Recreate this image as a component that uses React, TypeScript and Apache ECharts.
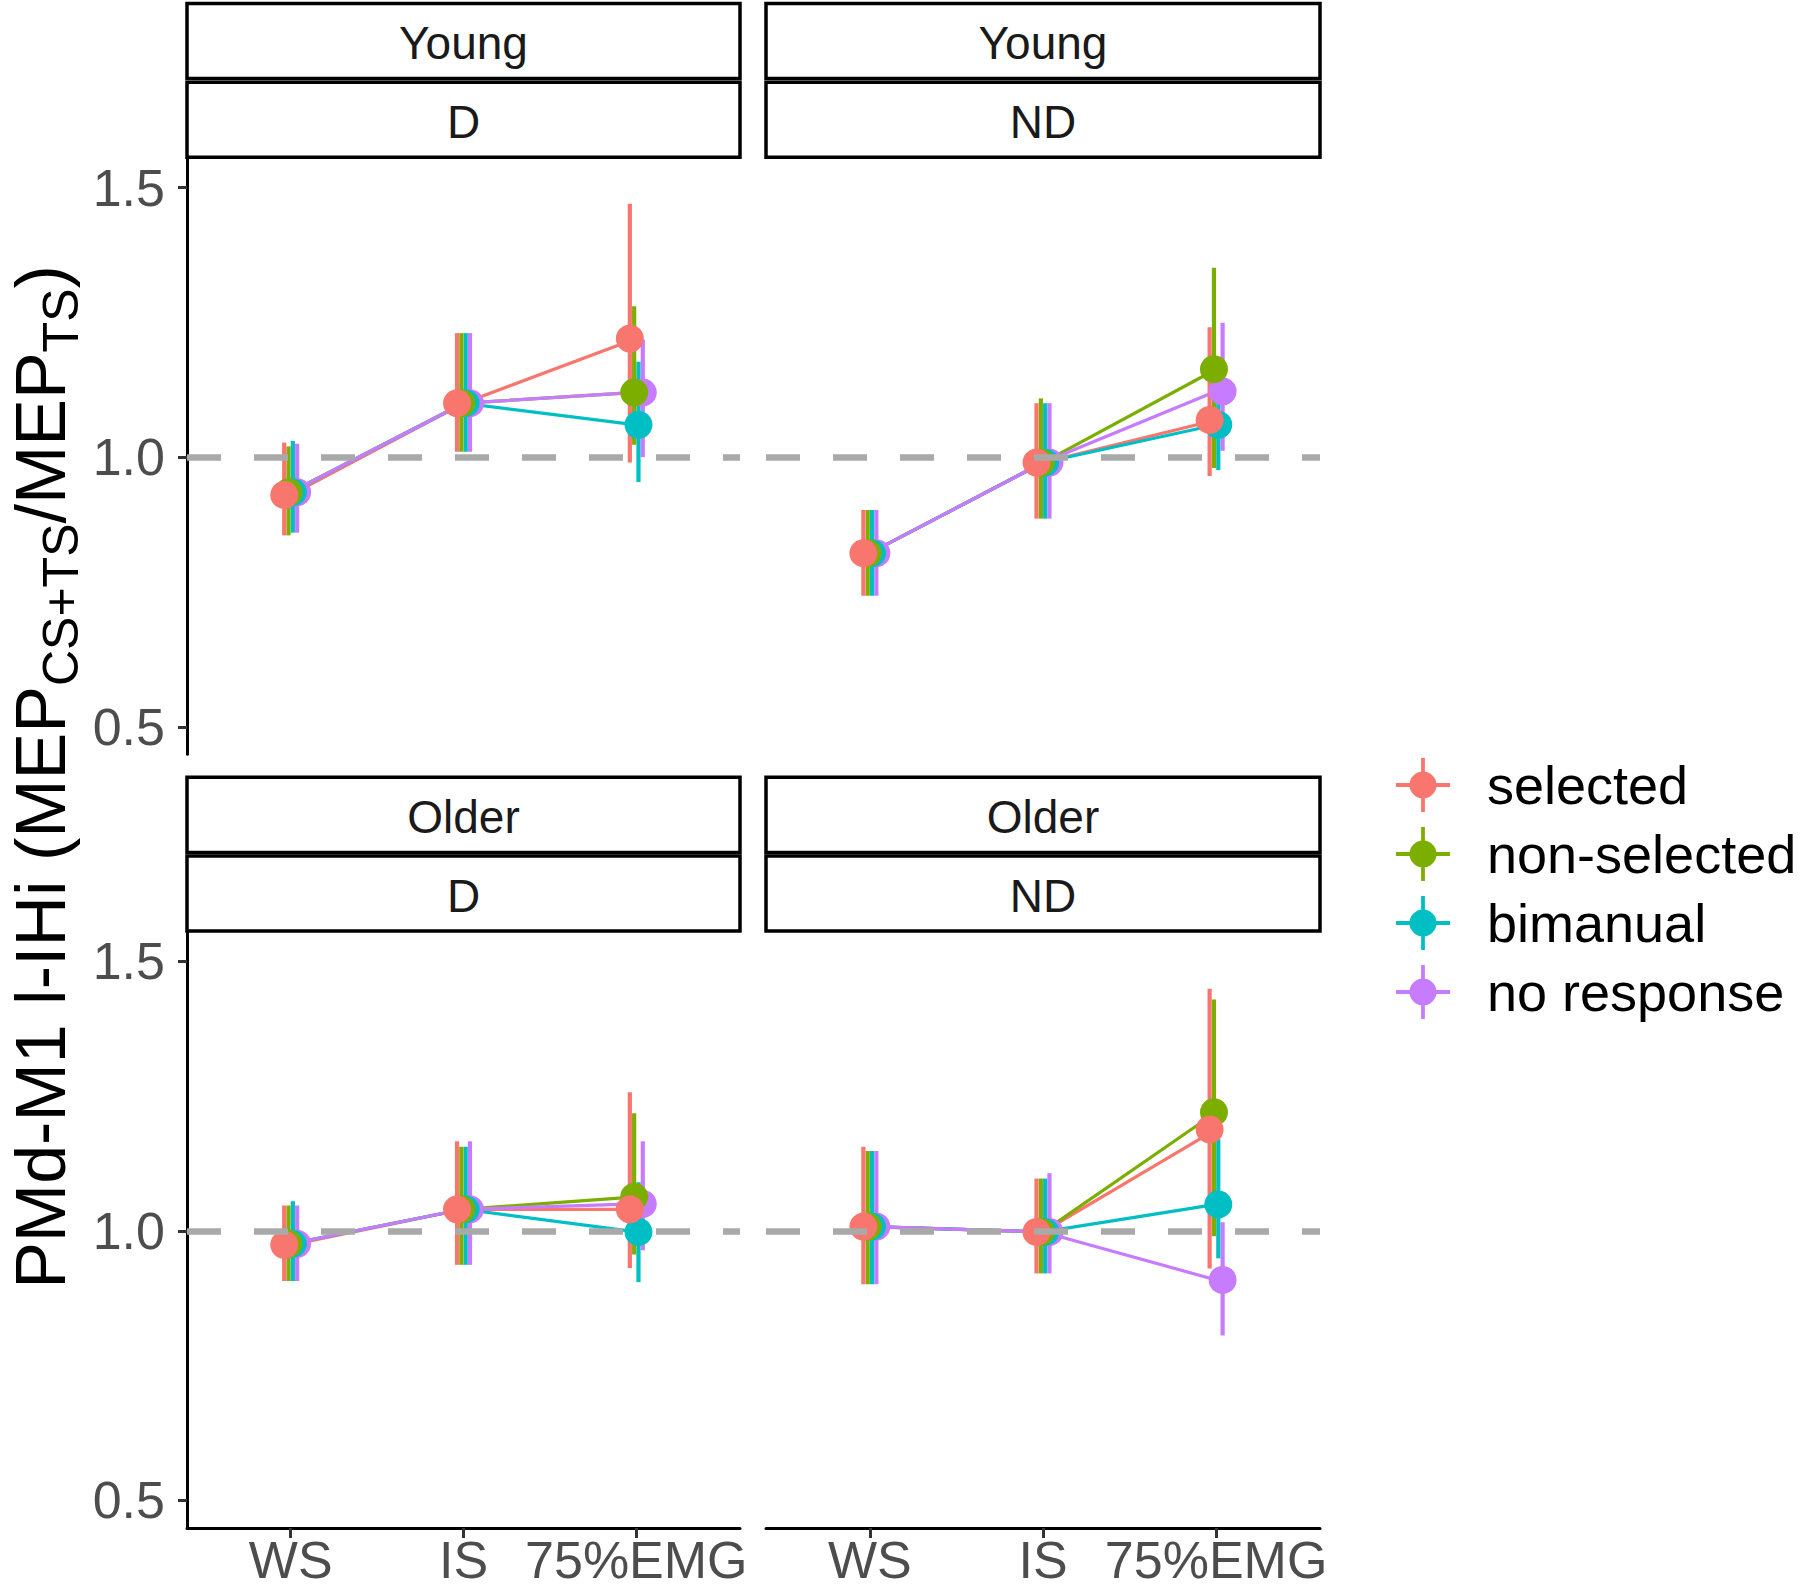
import React, { useEffect, useRef } from "react";
import * as echarts from "echarts";

// ---------- data ----------
const categories = ["WS", "IS", "75%EMG"];
const conditions = ["selected", "non-selected", "bimanual", "no response"];
const colors = ["#F8766D", "#7CAE00", "#00BFC4", "#C77CFF"];
const ageLabels = ["Young", "Young", "Older", "Older"];
const handLabels = ["D", "ND", "D", "ND"];
const yTicks = [0.5, 1.0, 1.5];
const dodgeOffsets = [-0.0375, -0.0125, 0.0125, 0.0375];

// rows: selected, non-selected, bimanual, no response ; cols: WS, IS, 75%EMG
const youngD_mean = [
  [0.93, 1.1, 1.22],
  [0.935, 1.1, 1.12],
  [0.935, 1.1, 1.06],
  [0.935, 1.1, 1.12],
];
const youngD_lower = [
  [0.855, 1.01, 0.99],
  [0.855, 1.01, 1.023],
  [0.86, 1.01, 0.954],
  [0.86, 1.01, 1.0],
];
const youngD_upper = [
  [1.027, 1.23, 1.47],
  [1.02, 1.23, 1.28],
  [1.03, 1.23, 1.177],
  [1.025, 1.23, 1.218],
];

const youngND_mean = [
  [0.822, 0.99, 1.069],
  [0.822, 0.99, 1.163],
  [0.822, 0.99, 1.06],
  [0.822, 0.99, 1.122],
];
const youngND_lower = [
  [0.743, 0.886, 0.965],
  [0.743, 0.886, 0.98],
  [0.743, 0.886, 0.976],
  [0.743, 0.886, 1.012],
];
const youngND_upper = [
  [0.902, 1.1, 1.241],
  [0.902, 1.109, 1.351],
  [0.902, 1.1, 1.15],
  [0.902, 1.1, 1.249],
];

const olderD_mean = [
  [0.974, 1.04, 1.04],
  [0.976, 1.04, 1.063],
  [0.976, 1.04, 0.998],
  [0.976, 1.04, 1.05],
];
const olderD_lower = [
  [0.907, 0.937, 0.931],
  [0.907, 0.937, 0.956],
  [0.907, 0.937, 0.905],
  [0.907, 0.937, 0.964],
];
const olderD_upper = [
  [1.047, 1.166, 1.257],
  [1.047, 1.156, 1.218],
  [1.055, 1.156, 1.09],
  [1.047, 1.166, 1.166],
];

const olderND_mean = [
  [1.008, 0.998, 1.188],
  [1.008, 0.998, 1.22],
  [1.008, 0.998, 1.049],
  [1.008, 0.998, 0.909],
];
const olderND_lower = [
  [0.901, 0.921, 0.93],
  [0.901, 0.921, 0.99],
  [0.901, 0.921, 0.949],
  [0.901, 0.921, 0.806],
];
const olderND_upper = [
  [1.156, 1.097, 1.449],
  [1.148, 1.097, 1.429],
  [1.148, 1.097, 1.17],
  [1.148, 1.107, 1.016],
];

const panelMeans = [youngD_mean, youngND_mean, olderD_mean, olderND_mean];
const panelLowers = [youngD_lower, youngND_lower, olderD_lower, olderND_lower];
const panelUppers = [youngD_upper, youngND_upper, olderD_upper, olderND_upper];

// ---------- layout ----------
const FONT = '"Liberation Sans", Arial, Helvetica, sans-serif';
const grids = [
  { left: 187, top: 157.3, width: 553, height: 597 },
  { left: 766, top: 157.3, width: 554, height: 597 },
  { left: 187, top: 931, width: 553, height: 597 },
  { left: 766, top: 931, width: 554, height: 597 },
];
const stripTops = [3.4, 3.4, 777.2, 777.2];
const Y_MIN = 0.449;
const Y_MAX = 1.556;

const legendIcon =
  "path://M0,46.5H100V53.5H0Z M46.5,0H53.5V100H46.5Z M25,50A25,25,0,1,1,75,50A25,25,0,1,1,25,50Z";

function buildOption() {
  const xAxis = grids.map((_, p) => {
    const bottom = p >= 2;
    return {
      type: "value",
      gridIndex: p,
      min: 0.4,
      max: 3.6,
      show: bottom,
      axisLine: { show: bottom, onZero: false, lineStyle: { color: "#000", width: 3 } },
      axisTick: {
        show: bottom,
        customValues: [1, 2, 3],
        length: 10,
        lineStyle: { color: "#333", width: 3 },
      },
      axisLabel: {
        show: bottom,
        customValues: [1, 2, 3],
        formatter: (v: number) => categories[Math.round(v) - 1] ?? "",
        fontSize: 52,
        lineHeight: 36,
        color: "#4D4D4D",
        fontFamily: FONT,
        margin: 14,
      },
      splitLine: { show: false },
    };
  });

  const yAxis = grids.map((_, p) => {
    const left = p % 2 === 0;
    return {
      type: "value",
      gridIndex: p,
      min: Y_MIN,
      max: Y_MAX,
      show: left,
      axisLine: { show: left, onZero: false, lineStyle: { color: "#000", width: 3 } },
      axisTick: {
        show: left,
        customValues: yTicks,
        length: 9,
        lineStyle: { color: "#333", width: 3 },
      },
      axisLabel: {
        show: left,
        customValues: yTicks,
        formatter: (v: number) => v.toFixed(1),
        fontSize: 52,
        color: "#4D4D4D",
        fontFamily: FONT,
        margin: 22,
      },
      splitLine: { show: false },
    };
  });

  const series: any[] = [];
  grids.forEach((_, p) => {
    const mean = panelMeans[p];
    const lower = panelLowers[p];
    const upper = panelUppers[p];
    // connecting lines
    conditions.forEach((name, c) => {
      const s: any = {
        type: "line",
        name,
        xAxisIndex: p,
        yAxisIndex: p,
        data: categories.map((_, k) => [k + 1, mean[c][k]]),
        showSymbol: false,
        symbol: "none",
        lineStyle: { color: colors[c], width: 3.2 },
        itemStyle: { color: colors[c] },
        silent: true,
        z: 2,
      };
      if (c === 0) {
        s.markLine = {
          silent: true,
          symbol: ["none", "none"],
          label: { show: false },
          lineStyle: { color: "#A9A9A9", width: 6.5, type: [34, 33] },
          data: [{ yAxis: 1 }],
          z: 8,
        };
      }
      series.push(s);
    });
    // point ranges (drawn purple first, red last)
    for (let c = conditions.length - 1; c >= 0; c--) {
      const color = colors[c];
      series.push({
        type: "custom",
        name: conditions[c],
        xAxisIndex: p,
        yAxisIndex: p,
        data: categories.map((_, k) => [k + 1 + dodgeOffsets[c], lower[c][k], upper[c][k]]),
        encode: { x: 0, y: [1, 2] },
        silent: true,
        z: 3,
        renderItem: (_params: any, api: any) => {
          const x = api.value(0);
          const a = api.coord([x, api.value(1)]);
          const b = api.coord([x, api.value(2)]);
          return {
            type: "line",
            shape: { x1: a[0], y1: a[1], x2: b[0], y2: b[1] },
            style: { stroke: color, lineWidth: 4.2 },
          };
        },
      });
      series.push({
        type: "scatter",
        name: conditions[c],
        xAxisIndex: p,
        yAxisIndex: p,
        data: categories.map((_, k) => [k + 1 + dodgeOffsets[c], mean[c][k]]),
        symbol: "circle",
        symbolSize: 28,
        itemStyle: { color, opacity: 1 },
        silent: true,
        z: 3,
      });
    }
  });

  // strips
  const graphics: any[] = [];
  grids.forEach((g, p) => {
    const y0 = stripTops[p];
    const boxes = [
      { y: y0, h: 75.2, label: ageLabels[p] },
      { y: y0 + 78.8, h: 75.1, label: handLabels[p] },
    ];
    boxes.forEach((b) => {
      graphics.push({
        type: "rect",
        shape: { x: g.left, y: b.y, width: g.width, height: b.h },
        style: { fill: "#fff", stroke: "#000", lineWidth: 3.5 },
        silent: true,
      });
      graphics.push({
        type: "text",
        x: g.left + g.width / 2,
        y: b.y + b.h / 2 + 2,
        style: {
          text: b.label,
          fontSize: 46,
          fontFamily: FONT,
          fill: "#1A1A1A",
          align: "center",
          verticalAlign: "middle",
        },
        silent: true,
      });
    });
  });

  // y axis title with subscripts
  graphics.push({
    type: "text",
    x: 41,
    y: 777,
    rotation: Math.PI / 2,
    style: {
      text: "{m|PMd-M1 l-IHi (MEP}{s|CS+TS}{m|/MEP}{s|TS}{m|)}",
      align: "center",
      verticalAlign: "middle",
      fill: "#000",
      fontFamily: FONT,
      rich: {
        m: { fontSize: 70, lineHeight: 64, fontFamily: FONT, fill: "#000" },
        s: {
          fontSize: 50,
          lineHeight: 24,
          fontFamily: FONT,
          fill: "#000",
          padding: [40, 0, 0, 0],
        },
      },
    },
    silent: true,
  });

  return {
    animation: false,
    backgroundColor: "#fff",
    textStyle: { fontFamily: FONT },
    grid: grids.map((g) => ({ ...g, containLabel: false, outerBoundsMode: "none" })),
    xAxis,
    yAxis,
    legend: {
      orient: "vertical",
      left: 1391,
      top: 753,
      itemWidth: 54,
      itemHeight: 54,
      itemGap: 15,
      selectedMode: false,
      data: conditions.map((name, i) => ({
        name,
        icon: legendIcon,
        itemStyle: { color: colors[i] },
      })),
      textStyle: {
        fontSize: 54,
        color: "#000",
        fontFamily: FONT,
        padding: [0, 0, 0, 32],
      },
    },
    graphic: { elements: graphics },
    series,
  };
}

export default function App() {
  const ref = useRef<HTMLDivElement>(null);
  useEffect(() => {
    if (!ref.current) return;
    const chart = echarts.init(ref.current, null, { renderer: "svg" });
    chart.setOption(buildOption() as any);
    return () => chart.dispose();
  }, []);
  return (
    <div
      ref={ref}
      style={{
        position: "absolute",
        left: 0,
        top: 0,
        width: 1800,
        height: 1590,
        background: "#fff",
      }}
    />
  );
}
